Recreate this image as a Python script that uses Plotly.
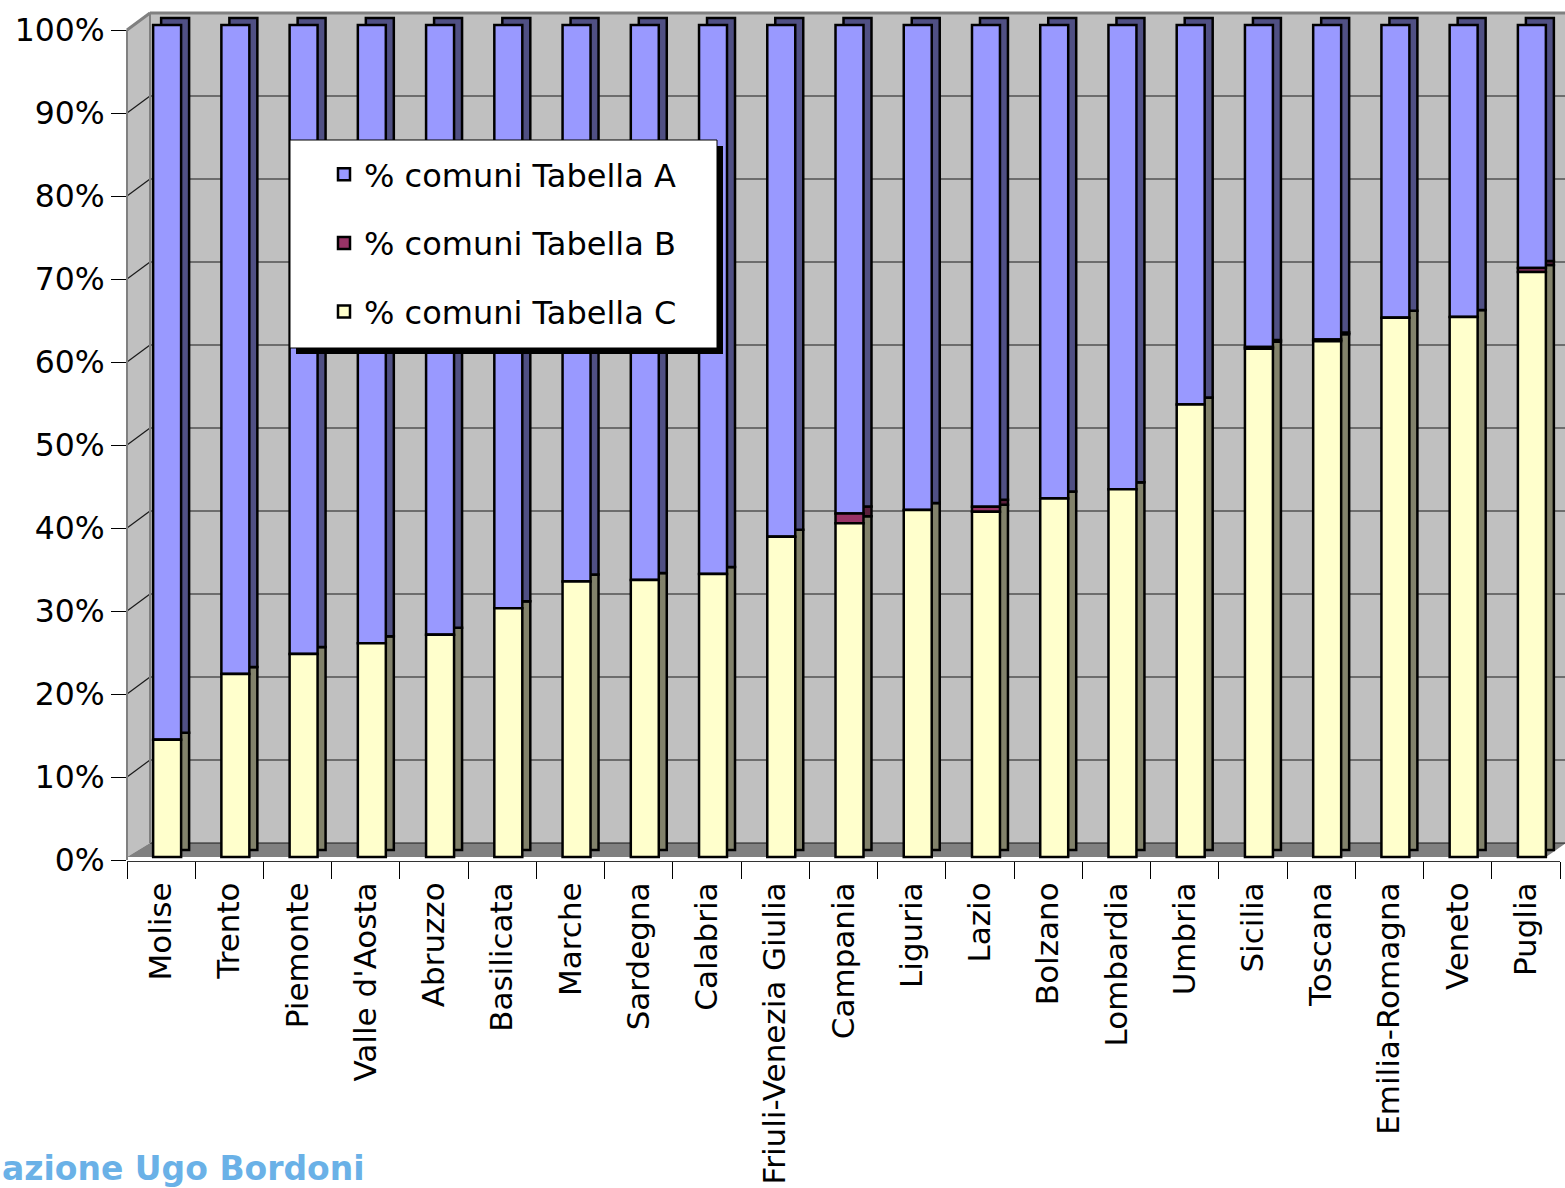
import plotly.graph_objects as go

regions = ["Molise", "Trento", "Piemonte", "Valle d'Aosta", "Abruzzo", "Basilicata",
           "Marche", "Sardegna", "Calabria", "Friuli-Venezia Giulia", "Campania",
           "Liguria", "Lazio", "Bolzano", "Lombardia", "Umbria", "Sicilia", "Toscana",
           "Emilia-Romagna", "Veneto", "Puglia"]
pct_C = [14.1, 22.0, 24.4, 25.7, 26.7, 29.9, 33.1, 33.3, 34.0, 38.5, 40.1,
         41.7, 41.5, 43.1, 44.2, 54.4, 61.1, 62.0, 64.8, 64.9, 70.3]
pct_B = [0.0, 0.0, 0.0, 0.0, 0.0, 0.0, 0.0, 0.0, 0.0, 0.0, 1.2,
         0.0, 0.6, 0.0, 0.0, 0.0, 0.2, 0.2, 0.0, 0.0, 0.5]
pct_A = [85.9, 78.0, 75.6, 74.3, 73.3, 70.1, 66.9, 66.7, 66.0, 61.5, 58.7,
         58.3, 57.9, 56.9, 55.8, 45.6, 38.7, 37.8, 35.2, 35.1, 29.2]
series_names = ["% comuni Tabella A", "% comuni Tabella B", "% comuni Tabella C"]
y_ticks = [0, 10, 20, 30, 40, 50, 60, 70, 80, 90, 100]

# geometry (pixels)
W, H = 1565, 1188
L, R, T, B = 127, 1560, 13, 861
PW, PH = R - L, B - T
ncat = len(regions)
cat_px = PW / ncat
FONT = "DejaVu Sans"

AX_ZERO = 860       # axis 0% tick (px)
BAR_ZERO = 857      # front face zero line (px)
BAR_SLOPE = 8.32    # px per percent for bars
AX_SLOPE = 8.3      # px per percent for axis / wall
WALL_DX, WALL_DY = 23, 17
DEPTH_DX, DEPTH_DY = 8, 7
BAR_W = 0.41
FRONT_SHIFT = 6     # px shift of front face from category centre
XR = 1566           # right end of walls (px)
EDGE = 2.5


def px(x):
    return (x - L) / PW


def py(y):
    return (B - y) / PH


def pth(points):
    return "M" + " L".join(f"{px(a)},{py(b)}" for a, b in points) + " Z"


front = {"A": "#9999FF", "B": "#993366", "C": "#FFFFCC"}
side = {"A": "#505084", "B": "#5A1F3C", "C": "#82826B"}

series = {"A": (pct_A, series_names[0]), "B": (pct_B, series_names[1]), "C": (pct_C, series_names[2])}
stack_order = ["C", "B", "A"]

# cumulative bases for the stack
bases = {}
run = [0.0] * ncat
for k in stack_order:
    bases[k] = list(run)
    run = [r + v for r, v in zip(run, series[k][0])]

front_off = FRONT_SHIFT / cat_px - BAR_W / 2
back_off = front_off + DEPTH_DX / cat_px
depth_units = DEPTH_DY / BAR_SLOPE

fig = go.Figure()
# depth (side/top) faces
for k in stack_order:
    vals, name = series[k]
    fig.add_trace(go.Bar(x=regions, y=vals, base=[b + depth_units for b in bases[k]],
                         width=BAR_W, offset=back_off, showlegend=False, hoverinfo="skip",
                         marker=dict(color=side[k], line=dict(color="black", width=EDGE))))
# front faces
for k in ["A", "B", "C"]:
    vals, name = series[k]
    fig.add_trace(go.Bar(x=regions, y=vals, base=bases[k], name=name, legendgroup=k,
                         width=BAR_W, offset=front_off,
                         marker=dict(color=front[k], line=dict(color="black", width=EDGE))))

WL = L + WALL_DX
WB = AX_ZERO - WALL_DY
shapes = []
# back wall
shapes.append(dict(type="path", xref="paper", yref="paper",
                   path=pth([(WL, T), (XR, T), (XR, WB), (WL, WB)]),
                   fillcolor="#C0C0C0", line=dict(width=0), layer="below"))
# left wall
shapes.append(dict(type="path", xref="paper", yref="paper",
                   path=pth([(L, T + WALL_DY), (WL, T), (WL, WB), (L, BAR_ZERO)]),
                   fillcolor="#C0C0C0", line=dict(width=0), layer="below"))
# floor
shapes.append(dict(type="path", xref="paper", yref="paper",
                   path=pth([(L, BAR_ZERO), (WL, WB), (XR, WB), (XR - 20, BAR_ZERO)]),
                   fillcolor="#808080", line=dict(width=0), layer="below"))
# gridlines on back wall + diagonals on left wall
for v in y_ticks:
    yf = AX_ZERO - AX_SLOPE * v
    yb = yf - WALL_DY
    shapes.append(dict(type="line", xref="paper", yref="paper", x0=px(WL), y0=py(yb), x1=px(XR), y1=py(yb),
                       line=dict(color="#1a1a1a", width=1.2), layer="below"))
    if v > 0:
        shapes.append(dict(type="line", xref="paper", yref="paper", x0=px(L), y0=py(yf), x1=px(WL), y1=py(yb),
                           line=dict(color="#1a1a1a", width=1.2), layer="below"))
# wall edges
shapes.append(dict(type="line", xref="paper", yref="paper", x0=px(WL), y0=py(WB), x1=px(WL), y1=py(T),
                   line=dict(color="#808080", width=2), layer="below"))
shapes.append(dict(type="line", xref="paper", yref="paper", x0=px(WL), y0=py(T), x1=px(XR), y1=py(T),
                   line=dict(color="#808080", width=3), layer="below"))
shapes.append(dict(type="line", xref="paper", yref="paper", x0=px(L), y0=py(T + WALL_DY), x1=px(WL), y1=py(T),
                   line=dict(color="#808080", width=3), layer="below"))
shapes.append(dict(type="line", xref="paper", yref="paper", x0=px(L), y0=py(T + WALL_DY), x1=px(L), y1=py(AX_ZERO),
                   line=dict(color="#808080", width=2), layer="below"))
# legend shadow and box
shapes.append(dict(type="rect", xref="paper", yref="paper", x0=px(296), x1=px(723), y0=py(354), y1=py(146),
                   fillcolor="black", line=dict(width=0), layer="above"))
shapes.append(dict(type="rect", xref="paper", yref="paper", x0=px(290), x1=px(717), y0=py(348), y1=py(140),
                   fillcolor="white", line=dict(color="black", width=1), layer="above"))

# y tick positions: axis ticks sit at 860 - 8.3*v px, convert to bar units
tick_pos = [(BAR_ZERO - (AX_ZERO - AX_SLOPE * v)) / BAR_SLOPE for v in y_ticks]

fig.update_layout(
    width=W, height=H,
    margin=dict(l=L, r=W - R, t=T, b=H - B, pad=0, autoexpand=False),
    paper_bgcolor="white", plot_bgcolor="white",
    barmode="overlay",
    font=dict(family=FONT, size=31.5, color="black"),
    xaxis=dict(range=[-0.5, ncat - 0.5], type="category", tickson="boundaries", ticks="outside",
               ticklen=17, tickwidth=1, tickcolor="black", tickangle=-90, showgrid=False,
               showline=True, linecolor="#333333", linewidth=1, zeroline=False, automargin=False,
               ticklabelstandoff=8, tickfont=dict(family=FONT, size=31)),
    yaxis=dict(range=[-(B - BAR_ZERO) / BAR_SLOPE, (BAR_ZERO - T) / BAR_SLOPE],
               tickvals=tick_pos, ticktext=[f"{v}%" for v in y_ticks], automargin=False,
               ticks="outside", ticklen=15, tickcolor="black", tickwidth=1, showgrid=False,
               showline=False, zeroline=False,
               tickfont=dict(family=FONT, size=31.5)),
    legend=dict(x=px(324), y=py(147), xanchor="left", yanchor="top", bgcolor="rgba(0,0,0,0)",
                borderwidth=0, traceorder="grouped", tracegroupgap=24,
                font=dict(family=FONT, size=32), itemwidth=30),
    shapes=shapes,
    showlegend=True,
)

fig.add_annotation(text="<b>azione Ugo Bordoni</b>", xref="paper", yref="paper",
                   x=px(0), y=py(1168), xanchor="left", yanchor="middle", showarrow=False,
                   font=dict(family=FONT, size=33, color="#6AB1E7"))

fig.write_html("out.html", config={"displayModeBar": False},
               post_script="document.body.style.margin='0';document.body.style.padding='0';")
